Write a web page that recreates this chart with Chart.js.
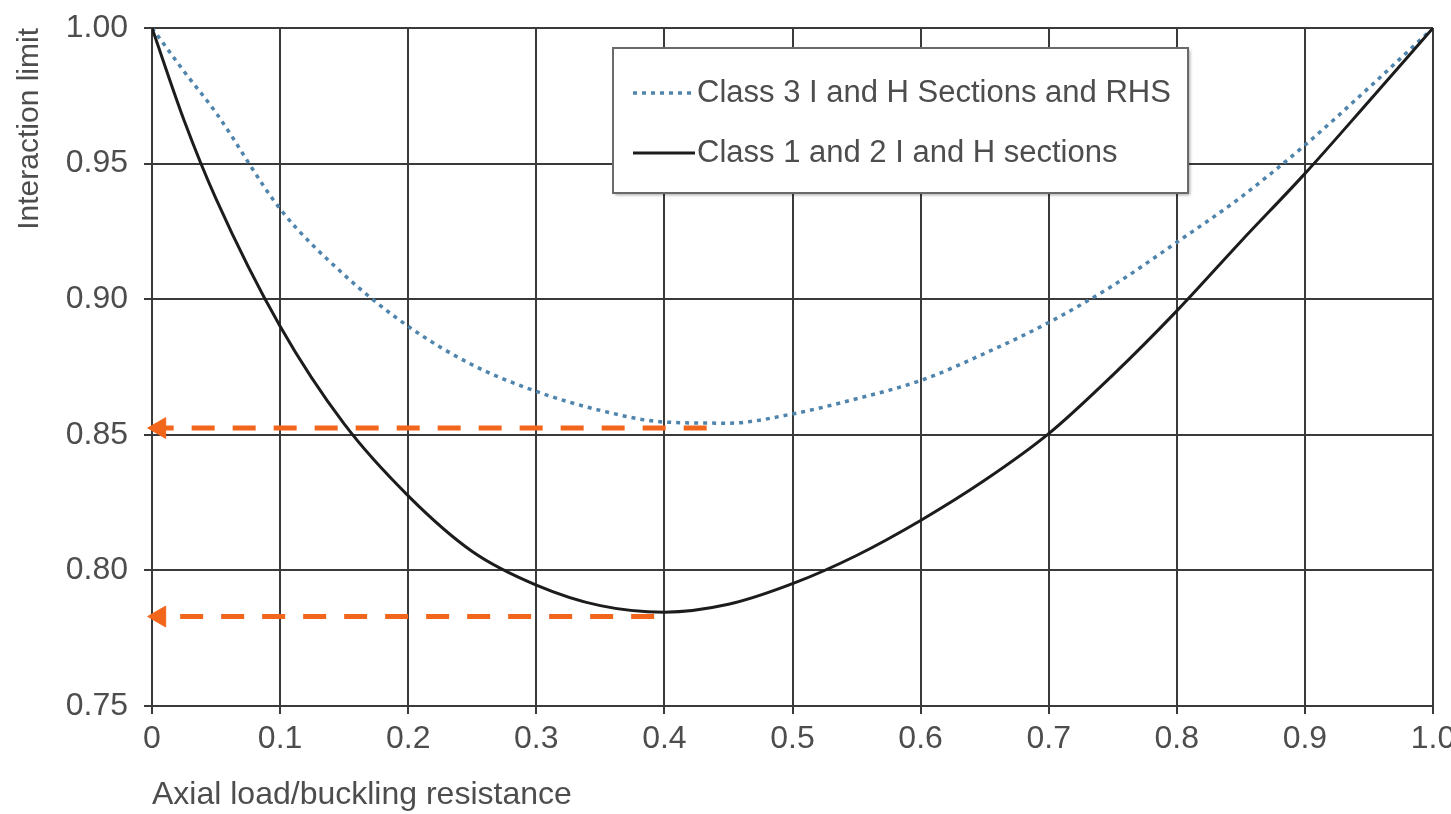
<!DOCTYPE html>
<html>
<head>
<meta charset="utf-8">
<script src="https://cdn.jsdelivr.net/npm/chart.js@4.4.1/dist/chart.umd.min.js"></script>
<style>
html,body{margin:0;padding:0;background:#ffffff;}
#wrap{width:1451px;height:814px;position:relative;}
</style>
</head>
<body>
<div id="wrap"><canvas id="c" width="1451" height="814"></canvas></div>
<script>
// ---- data ----
const xValues      = [0, 0.025, 0.05, 0.1, 0.15, 0.2, 0.25, 0.3, 0.35, 0.4, 0.45, 0.5, 0.55, 0.6, 0.65, 0.7, 0.75, 0.8, 0.85, 0.9, 0.95, 1.0];
const class3Values = [1.0, 0.984, 0.9687, 0.9333, 0.909, 0.890, 0.8758, 0.866, 0.859, 0.8547, 0.8543, 0.8577, 0.8633, 0.870, 0.880, 0.8914, 0.905, 0.921, 0.9376, 0.9568, 0.978, 1.0];
const class12Values= [1.0, 0.966, 0.937, 0.890, 0.854, 0.8275, 0.807, 0.7946, 0.787, 0.7846, 0.7875, 0.7951, 0.8055, 0.8184, 0.8332, 0.8504, 0.872, 0.8957, 0.9213, 0.9463, 0.973, 1.0];
const seriesLabels = ['Class 3 I and H Sections and RHS', 'Class 1 and 2 I and H sections'];
const xTickLabels  = ['0', '0.1', '0.2', '0.3', '0.4', '0.5', '0.6', '0.7', '0.8', '0.9', '1.0'];
const yTickLabels  = ['0.75', '0.80', '0.85', '0.90', '0.95', '1.00'];
const xAxisTitle   = 'Axial load/buckling resistance';
const yAxisTitle   = 'Interaction limit';
// annotation arrows (start x -> arrowhead x, level)
const arrowUpperX  = [0.433, 0.006];
const arrowUpperY  = [0.8525, 0.8525];
const arrowLowerX  = [0.392, 0.006];
const arrowLowerY  = [0.783, 0.783];

const toPoints = (xs, ys) => xs.map((x, i) => ({x: x, y: ys[i]}));

const FONT = "'Liberation Sans', Arial, Helvetica, sans-serif";
const TEXT = '#4d4d4d';
const GRID = '#3a3a3a';
const ORANGE = '#f2661c';

// custom in-plot legend box
const legendPlugin = {
  id: 'boxLegend',
  afterDatasetsDraw(chart, args, opts) {
    const ctx = chart.ctx;
    const b = opts.box;
    ctx.save();
    ctx.shadowColor = 'rgba(0,0,0,0.35)';
    ctx.shadowOffsetX = 2;
    ctx.shadowOffsetY = 2;
    ctx.shadowBlur = 3;
    ctx.fillStyle = '#ffffff';
    ctx.fillRect(b.left, b.top, b.right - b.left, b.bottom - b.top);
    ctx.shadowColor = 'transparent';
    ctx.lineWidth = 2;
    ctx.strokeStyle = '#6a6a6a';
    ctx.strokeRect(b.left, b.top, b.right - b.left, b.bottom - b.top);
    const items = chart.data.datasets.filter(d => d.inLegend);
    items.forEach((d, i) => {
      const y = opts.firstY + i * opts.rowGap;
      ctx.beginPath();
      ctx.setLineDash(d.borderDash || []);
      ctx.lineWidth = d.borderWidth;
      ctx.strokeStyle = d.borderColor;
      ctx.moveTo(opts.sampleX0, y);
      ctx.lineTo(opts.sampleX1, y);
      ctx.stroke();
      ctx.setLineDash([]);
      ctx.fillStyle = TEXT;
      ctx.font = opts.fontSize + 'px ' + FONT;
      ctx.textBaseline = 'middle';
      ctx.textAlign = 'left';
      ctx.fillText(d.label, opts.textX, y);
    });
    ctx.restore();
  }
};

const arrowStyle = {
  borderColor: ORANGE,
  backgroundColor: ORANGE,
  borderWidth: 5,
  borderDash: [23, 18],
  pointRadius: (c) => (c.dataIndex === 1 ? 12 : 0),
  pointStyle: 'triangle',
  pointRotation: 270,
  pointBackgroundColor: ORANGE,
  pointBorderColor: ORANGE,
  pointBorderWidth: 1,
  clip: false,
  order: 0,
  inLegend: false
};

new Chart(document.getElementById('c'), {
  type: 'line',
  data: {
    datasets: [
      Object.assign({label: '', data: toPoints(arrowUpperX, arrowUpperY)}, arrowStyle),
      Object.assign({label: '', data: toPoints(arrowLowerX, arrowLowerY)}, arrowStyle),
      {
        label: seriesLabels[0],
        data: toPoints(xValues, class3Values),
        borderColor: '#4f84ad',
        borderWidth: 3.5,
        borderDash: [4, 5],
        pointRadius: 0,
        cubicInterpolationMode: 'monotone',
        fill: false,
        order: 2,
        inLegend: true
      },
      {
        label: seriesLabels[1],
        data: toPoints(xValues, class12Values),
        borderColor: '#1c1c1c',
        borderWidth: 3,
        pointRadius: 0,
        cubicInterpolationMode: 'monotone',
        fill: false,
        order: 1,
        inLegend: true
      }
    ]
  },
  options: {
    responsive: false,
    animation: false,
    events: [],
    layout: {padding: {top: 28, right: 18, bottom: 0, left: 0}},
    plugins: {
      legend: {display: false},
      tooltip: {enabled: false},
      boxLegend: {
        box: {left: 613, top: 48, right: 1188, bottom: 193},
        firstY: 93, rowGap: 60,
        sampleX0: 633, sampleX1: 695, textX: 697,
        fontSize: 31
      }
    },
    scales: {
      x: {
        type: 'linear',
        min: 0, max: 1,
        ticks: {
          stepSize: 0.1,
          color: TEXT,
          font: {family: FONT, size: 32},
          padding: 6,
          maxRotation: 0,
          autoSkip: false,
          callback: (v) => xTickLabels[Math.round(v * 10)]
        },
        grid: {color: GRID, lineWidth: 2, tickLength: 8},
        border: {color: GRID, width: 2},
        title: {
          display: true, text: xAxisTitle, align: 'start',
          color: TEXT, font: {family: FONT, size: 32},
          padding: {top: 0, bottom: 0}
        },
        afterFit: (s) => { s.height = 108; s.paddingLeft = 0; s.paddingRight = 0; }
      },
      y: {
        type: 'linear',
        min: 0.75, max: 1.0,
        ticks: {
          stepSize: 0.05,
          color: TEXT,
          font: {family: FONT, size: 32},
          padding: 16,
          autoSkip: false,
          callback: (v) => yTickLabels[Math.round((v - 0.75) * 20)]
        },
        grid: {color: GRID, lineWidth: 2, tickLength: 8},
        border: {color: GRID, width: 2},
        title: {
          display: true, text: yAxisTitle, align: 'end',
          color: TEXT, font: {family: FONT, size: 30},
          padding: {top: 12, bottom: 0}
        },
        afterFit: (s) => { s.width = 152; s.paddingTop = 0; s.paddingBottom = 0; }
      }
    }
  },
  plugins: [legendPlugin]
});
</script>
</body>
</html>
